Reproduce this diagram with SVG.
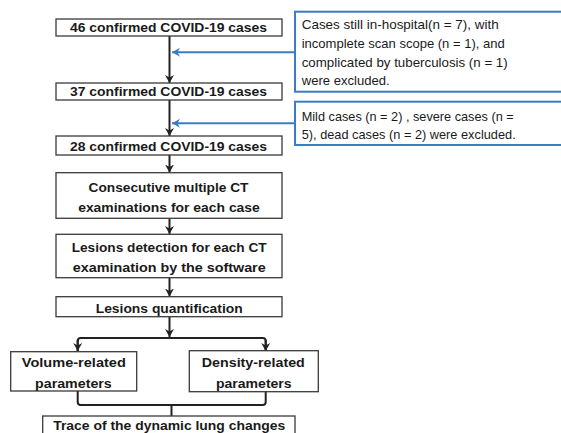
<svg xmlns="http://www.w3.org/2000/svg" width="561" height="433" viewBox="0 0 561 433">
<style>
.box{fill:#fff;stroke:#3a3a3a;stroke-width:1.3}
.bbox{fill:#fff;stroke:#3b7dc4;stroke-width:2}
.t{font-family:"Liberation Sans",Arial,sans-serif;font-weight:bold;font-size:13.5px;fill:#1a1a1a;text-anchor:middle}
.n{font-family:"Liberation Sans",Arial,sans-serif;font-size:13.5px;fill:#1a1a1a}
.c{fill:none;stroke:#222;stroke-width:2}
.bc{fill:none;stroke:#3b7dc4;stroke-width:2}
</style>
<defs>
<marker id="ah" markerWidth="10" markerHeight="10" refX="8" refY="5" orient="auto" markerUnits="userSpaceOnUse">
<path d="M0,0.5 L8,5 L0,9.5 L2.5,5 Z" fill="#222"/>
</marker>
<marker id="bh" markerWidth="10" markerHeight="10" refX="8" refY="5" orient="auto" markerUnits="userSpaceOnUse">
<path d="M0,0.5 L8,5 L0,9.5 L2.5,5 Z" fill="#3b7dc4"/>
</marker>
</defs>
<g id="connectors">
<path class="c" d="M169.5,36 V83" marker-end="url(#ah)"/>
<path class="c" d="M169.5,100 V136" marker-end="url(#ah)"/>
<path class="c" d="M169.5,155 V172.5" marker-end="url(#ah)"/>
<path class="c" d="M169.5,218.5 V234" marker-end="url(#ah)"/>
<path class="c" d="M169.5,278 V296.5" marker-end="url(#ah)"/>
<path class="c" d="M169.5,317 V337" marker-end="url(#ah)"/>
<path class="c" d="M77.7,351 V341 Q77.7,338 80.7,338 H262.7 Q265.7,338 265.7,341 V351" />
<path class="c" d="M77.7,340 V351" marker-end="url(#ah)"/>
<path class="c" d="M265.7,340 V351" marker-end="url(#ah)"/>
<path class="c" d="M77.7,391 V402 Q77.7,405 80.7,405 H262.7 Q265.7,405 265.7,402 V391 M171.5,405 V416"/>
<path class="bc" d="M295,52.3 H172" marker-end="url(#bh)"/>
<path class="bc" d="M295,123.3 H172" marker-end="url(#bh)"/>
</g>
<g id="n46"><rect class="box" x="56" y="19" width="226" height="17"/><text class="t" x="168.5" y="31.7" textLength="197" lengthAdjust="spacingAndGlyphs">46 confirmed COVID-19 cases</text></g>
<g id="n37"><rect class="box" x="56" y="83" width="226" height="17"/><text class="t" x="168.5" y="96" textLength="197" lengthAdjust="spacingAndGlyphs">37 confirmed COVID-19 cases</text></g>
<g id="n28"><rect class="box" x="56" y="136" width="226" height="19"/><text class="t" x="168.5" y="150.5" textLength="197" lengthAdjust="spacingAndGlyphs">28 confirmed COVID-19 cases</text></g>
<g id="ex1"><rect class="bbox" x="295" y="11.7" width="280" height="80"/>
<text class="n" x="301.7" y="29.3" textLength="197" lengthAdjust="spacingAndGlyphs">Cases still in-hospital(n = 7),  with</text>
<text class="n" x="301.7" y="48" textLength="203" lengthAdjust="spacingAndGlyphs">incomplete scan scope (n = 1), and</text>
<text class="n" x="301.7" y="66.8" textLength="206" lengthAdjust="spacingAndGlyphs">complicated by tuberculosis (n = 1)</text>
<text class="n" x="301.7" y="85.3" textLength="88" lengthAdjust="spacingAndGlyphs">were excluded.</text></g>
<g id="ex2"><rect class="bbox" x="295" y="101.7" width="280" height="43.3"/>
<text class="n" x="301.7" y="120.7" textLength="212" lengthAdjust="spacingAndGlyphs">Mild cases (n = 2) , severe cases (n =</text>
<text class="n" x="301.7" y="138.5" textLength="214" lengthAdjust="spacingAndGlyphs">5), dead cases (n = 2) were excluded.</text></g>
<g id="consec"><rect class="box" x="56" y="172.7" width="226" height="45.6"/>
<text class="t" x="168.5" y="191.7" textLength="160" lengthAdjust="spacingAndGlyphs">Consecutive multiple CT</text>
<text class="t" x="169" y="212.3" textLength="181.7" lengthAdjust="spacingAndGlyphs">examinations for each case</text></g>
<g id="detect"><rect class="box" x="56" y="234.3" width="226" height="43.4"/>
<text class="t" x="169.2" y="251.7" textLength="195" lengthAdjust="spacingAndGlyphs">Lesions detection for each CT</text>
<text class="t" x="169.2" y="271.7" textLength="193" lengthAdjust="spacingAndGlyphs">examination by the software</text></g>
<g id="quant"><rect class="box" x="56" y="296.7" width="226" height="20"/>
<text class="t" x="169.2" y="312.5" textLength="147" lengthAdjust="spacingAndGlyphs">Lesions quantification</text></g>
<g id="volume"><rect class="box" x="10.7" y="351.7" width="126" height="39.3"/>
<text class="t" x="73.8" y="366.7" textLength="104" lengthAdjust="spacingAndGlyphs">Volume-related</text>
<text class="t" x="73.4" y="387.5" textLength="76.7" lengthAdjust="spacingAndGlyphs">parameters</text></g>
<g id="density"><rect class="box" x="189.3" y="350.7" width="129" height="41"/>
<text class="t" x="253.3" y="366.7" textLength="103" lengthAdjust="spacingAndGlyphs">Density-related</text>
<text class="t" x="253.8" y="387.5" textLength="75.7" lengthAdjust="spacingAndGlyphs">parameters</text></g>
<g id="trace"><rect class="box" x="42.7" y="416" width="252.3" height="30"/>
<text class="t" x="169.2" y="430" textLength="232" lengthAdjust="spacingAndGlyphs">Trace of the dynamic lung changes</text></g>
</svg>
